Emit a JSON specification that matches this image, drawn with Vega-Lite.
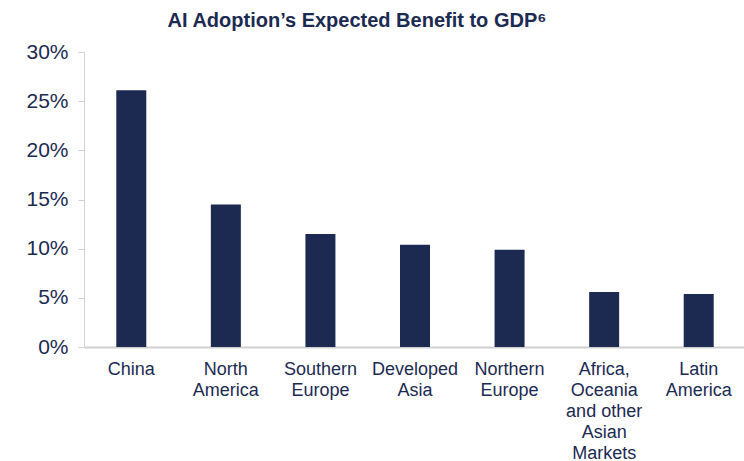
{
  "$schema": "https://vega.github.io/schema/vega-lite/v6.json",
  "autosize": "none",
  "width": 662,
  "height": 295,
  "padding": {"left": 84, "top": 52, "right": 0, "bottom": 114},
  "background": "white",
  "title": {
    "text": "AI Adoption’s Expected Benefit to GDP⁶",
    "font": "Liberation Sans",
    "fontSize": 20,
    "fontWeight": "bold",
    "color": "#1c2a52",
    "anchor": "middle",
    "dx": -58,
    "offset": 10
  },
  "data": {
    "values": [
      {"region": "China", "value": 0.261},
      {"region": "North|America", "value": 0.145},
      {"region": "Southern|Europe", "value": 0.115},
      {"region": "Developed|Asia", "value": 0.104},
      {"region": "Northern|Europe", "value": 0.099},
      {"region": "Africa,|Oceania|and other|Asian|Markets", "value": 0.056},
      {"region": "Latin|America", "value": 0.054}
    ]
  },
  "config": {
    "view": {"stroke": null},
    "axis": {
      "labelFont": "Liberation Sans",
      "labelColor": "#1c2a52",
      "domainColor": "#d0d0d0",
      "tickColor": "#d0d0d0",
      "grid": false,
      "title": null
    }
  },
  "mark": {"type": "bar", "color": "#1c2a52", "size": 30},
  "encoding": {
    "x": {
      "field": "region",
      "type": "nominal",
      "sort": null,
      "scale": {"paddingInner": 0, "paddingOuter": 0},
      "axis": {
        "labelAngle": 0,
        "labelFontSize": 18,
        "labelLineHeight": 21,
        "labelPadding": 13,
        "ticks": false,
        "labelExpr": "split(datum.label, '|')",
        "domainWidth": 2
      }
    },
    "y": {
      "field": "value",
      "type": "quantitative",
      "scale": {"domain": [0, 0.3]},
      "axis": {
        "format": ".0%",
        "values": [0, 0.05, 0.1, 0.15, 0.2, 0.25, 0.3],
        "labelFontSize": 21,
        "labelPadding": 10,
        "tickSize": 6,
        "domainWidth": 1
      }
    }
  }
}
